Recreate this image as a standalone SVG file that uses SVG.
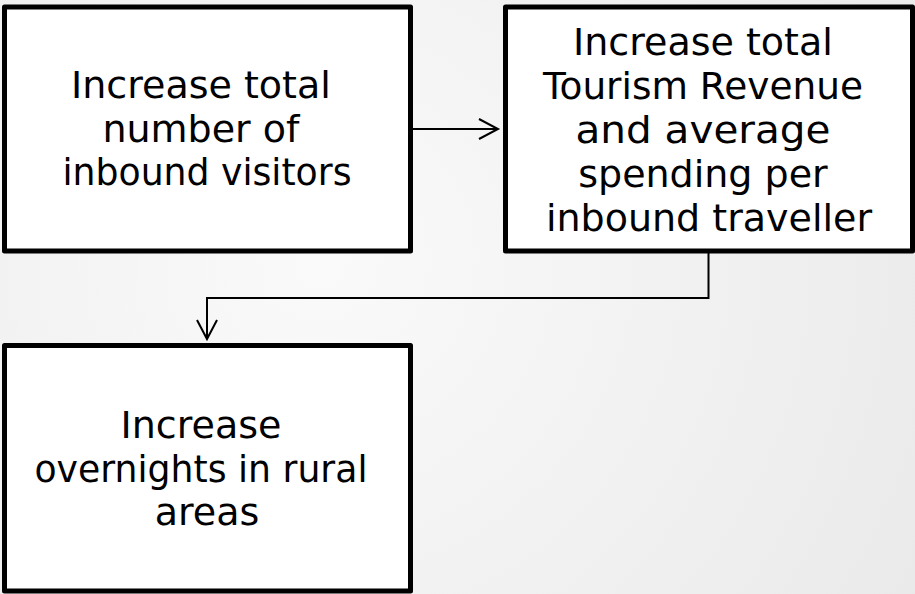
<svg xmlns="http://www.w3.org/2000/svg" width="915" height="594" viewBox="0 0 915 594">
  <defs>
    <radialGradient id="bg" cx="320" cy="260" r="720" gradientUnits="userSpaceOnUse">
      <stop offset="0" stop-color="#fafafa"/>
      <stop offset="1" stop-color="#e9e9e9"/>
    </radialGradient>
    <marker id="arrow" viewBox="0 0 22 22" refX="20" refY="11" markerWidth="22" markerHeight="22" markerUnits="userSpaceOnUse" orient="auto" overflow="visible">
      <path d="M1,1 L20,11 L1,21" fill="none" stroke="#000" stroke-width="2"/>
    </marker>
    <style>
      .box { fill: #ffffff; stroke: #000000; stroke-width: 5; stroke-linejoin: round; }
      .label { font-family: "DejaVu Sans", "Liberation Sans", sans-serif; font-size: 38px; fill: #000000; text-anchor: middle; }
      .conn { fill: none; stroke: #000000; stroke-width: 2; }
    </style>
  </defs>
  <rect x="0" y="0" width="915" height="594" fill="url(#bg)"/>

  <g id="node-visitors">
    <rect class="box" x="4.5" y="7" width="406" height="244"/>
    <text class="label">
      <tspan x="207" y="98">Increase total</tspan>
      <tspan x="207" y="141.5">number of</tspan>
      <tspan x="207" y="185" textLength="289" lengthAdjust="spacingAndGlyphs">inbound visitors</tspan>
    </text>
  </g>

  <g id="node-revenue">
    <rect class="box" x="505.5" y="7" width="407" height="244"/>
    <text class="label">
      <tspan x="709" y="55">Increase total</tspan>
      <tspan x="709" y="99" textLength="320" lengthAdjust="spacingAndGlyphs">Tourism Revenue</tspan>
      <tspan x="709" y="143" textLength="255" lengthAdjust="spacingAndGlyphs">and average</tspan>
      <tspan x="709" y="187">spending per</tspan>
      <tspan x="709" y="231">inbound traveller</tspan>
    </text>
  </g>

  <g id="node-rural">
    <rect class="box" x="4.5" y="345.5" width="406" height="245.5"/>
    <text class="label">
      <tspan x="207" y="438">Increase</tspan>
      <tspan x="207" y="482" textLength="333" lengthAdjust="spacingAndGlyphs">overnights in rural</tspan>
      <tspan x="207" y="525">areas</tspan>
    </text>
  </g>

  <g id="connectors">
    <path class="conn" d="M413,129 L498,129" marker-end="url(#arrow)"/>
    <path class="conn" d="M708.5,253 L708.5,298 L207,298 L207,339" marker-end="url(#arrow)"/>
  </g>
</svg>
